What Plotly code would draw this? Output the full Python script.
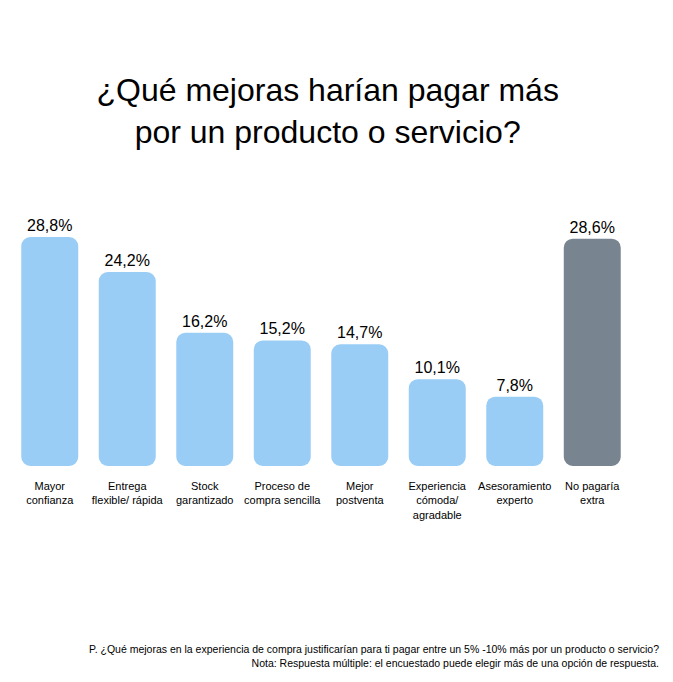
import plotly.graph_objects as go

categories = ["Mayor<br>confianza", "Entrega<br>flexible/ rápida", "Stock<br>garantizado",
              "Proceso de<br>compra sencilla", "Mejor<br>postventa",
              "Experiencia<br>cómoda/<br>agradable", "Asesoramiento<br>experto", "No pagaría<br>extra"]
values = [28.8, 24.2, 16.2, 15.2, 14.7, 10.1, 7.8, 28.6]
colors = ["#99CDF5"] * 7 + ["#78848F"]

# the bars in the original start a little below zero (rounded foot)
BAR_FOOT = -1.32

labels = [f"{v:.1f}".replace(".", ",") + "%" for v in values]
xs = list(range(len(values)))

fig = go.Figure()
# an explicit base makes plotly round both ends of the bar
fig.add_trace(go.Bar(x=xs, y=[v - BAR_FOOT for v in values], base=BAR_FOOT,
                     marker_color=colors, marker_line_width=0, text=labels,
                     textposition="outside", cliponaxis=False,
                     textfont=dict(size=16, color="#000000", family="Liberation Sans")))

fig.update_layout(
    width=673, height=682,
    bargap=0.265, barcornerradius=9,
    showlegend=False,
    plot_bgcolor="white", paper_bgcolor="white",
    margin=dict(l=3, r=50, t=220, b=224),
    font=dict(family="Liberation Sans", color="#000000"),
    title=dict(text="¿Qué mejoras harían pagar más<br>por un producto o servicio?",
               x=0.475, xanchor="center", y=0.863, yanchor="middle",
               font=dict(size=32, color="#000000")),
    xaxis=dict(tickvals=xs, ticktext=categories, showgrid=False, zeroline=False,
               showline=False, ticks="", tickfont=dict(size=11, color="#000000"),
               ticklabelstandoff=12),
    yaxis=dict(range=[BAR_FOOT, 30], visible=False),
    annotations=[dict(
        text="P. ¿Qué mejoras en la experiencia de compra justificarían para ti pagar entre un 5% -10% más por un producto o servicio?"
             "<br>Nota: Respuesta múltiple: el encuestado puede elegir más de una opción de respuesta.",
        xref="paper", yref="paper", x=1.049, y=-0.735, xanchor="right", yanchor="top",
        align="right", showarrow=False, font=dict(size=10.5, color="#000000"))],
)

fig.write_html("out.html")
